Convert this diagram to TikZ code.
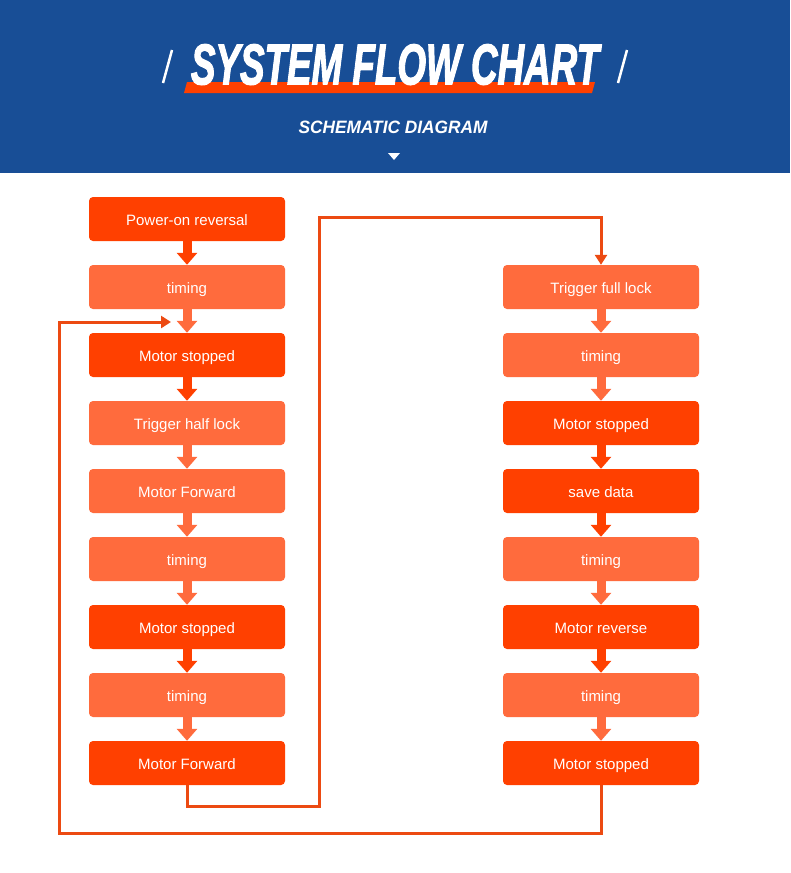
\documentclass[tikz,border=0pt]{standalone}
\usepackage{fontspec}
\usepackage{graphicx}
\setmainfont{Liberation Sans}
\newfontfamily\heavyfont[FakeBold=2.5]{Liberation Sans}
\usetikzlibrary{arrows.meta}
\definecolor{hdr}{RGB}{24,78,150}
\definecolor{dk}{RGB}{255,64,0}
\definecolor{lt}{RGB}{255,107,61}
\definecolor{cn}{RGB}{236,74,18}
\tikzset{
  box/.style={minimum width=196pt, minimum height=44pt, rounded corners=4pt, inner sep=0pt, text=white, text height=13pt, text depth=1pt, font=\fontsize{15}{17}\selectfont},
  flowarr/.style={line width=9pt, -{Triangle[width=20pt,length=12pt]}, shorten <=-0.5pt},
  conn/.style={draw=cn, line width=3pt, line join=miter},
  connarr/.style={conn, -{Triangle[width=12pt,length=10pt]}}
}
\begin{document}
\begin{tikzpicture}[x=1pt,y=-1pt]
\useasboundingbox (0,0) rectangle (790,873);
\fill[white] (0,0) rectangle (790,873);
% header
\fill[hdr] (0,0) rectangle (790,173);
\fill[dk] (187,82) -- (595,82) -- (592,93) -- (184,93) -- cycle;
\node[text=white, inner sep=0pt, anchor=south] (title) at (395,85) {\resizebox{408pt}{40pt}{\heavyfont\bfseries\itshape SYSTEM FLOW CHART}};
\draw[white, line width=2.5pt] (163,83) -- (172,50);
\draw[white, line width=2.5pt] (618,83) -- (627,50);
\node[text=white, inner sep=0pt, anchor=south] (sub) at (393,134) {\resizebox{189pt}{12.5pt}{\bfseries\itshape SCHEMATIC DIAGRAM}};
\fill[white] (388,153) -- (400,153) -- (394,160) -- cycle;
% left column
\node[box, fill=dk] (L1) at (187,219) {Power-on reversal};
\node[box, fill=lt] (L2) at (187,287) {timing};
\node[box, fill=dk] (L3) at (187,355) {Motor stopped};
\node[box, fill=lt] (L4) at (187,423) {Trigger half lock};
\node[box, fill=lt] (L5) at (187,491) {Motor Forward};
\node[box, fill=lt] (L6) at (187,559) {timing};
\node[box, fill=dk] (L7) at (187,627) {Motor stopped};
\node[box, fill=lt] (L8) at (187,695) {timing};
\node[box, fill=dk] (L9) at (187,763) {Motor Forward};
% right column
\node[box, fill=lt] (R1) at (601,287) {Trigger full lock};
\node[box, fill=lt] (R2) at (601,355) {timing};
\node[box, fill=dk] (R3) at (601,423) {Motor stopped};
\node[box, fill=dk] (R4) at (601,491) {save data};
\node[box, fill=lt] (R5) at (601,559) {timing};
\node[box, fill=dk] (R6) at (601,627) {Motor reverse};
\node[box, fill=lt] (R7) at (601,695) {timing};
\node[box, fill=dk] (R8) at (601,763) {Motor stopped};
% flow arrows (colour of source box)
\draw[flowarr, dk] (L1.south) -- (L2.north);
\draw[flowarr, lt] (L2.south) -- (L3.north);
\draw[flowarr, dk] (L3.south) -- (L4.north);
\draw[flowarr, lt] (L4.south) -- (L5.north);
\draw[flowarr, lt] (L5.south) -- (L6.north);
\draw[flowarr, lt] (L6.south) -- (L7.north);
\draw[flowarr, dk] (L7.south) -- (L8.north);
\draw[flowarr, lt] (L8.south) -- (L9.north);
\draw[flowarr, lt] (R1.south) -- (R2.north);
\draw[flowarr, lt] (R2.south) -- (R3.north);
\draw[flowarr, dk] (R3.south) -- (R4.north);
\draw[flowarr, dk] (R4.south) -- (R5.north);
\draw[flowarr, lt] (R5.south) -- (R6.north);
\draw[flowarr, dk] (R6.south) -- (R7.north);
\draw[flowarr, lt] (R7.south) -- (R8.north);
% connectors
\coordinate (c1) at (319,806);
\coordinate (c2) at (601,217);
\coordinate (c3) at (59,833);
\coordinate (c4) at (171,322);
\draw[connarr] (L9.south) |- (c1) |- (c2) -- (R1.north);
\draw[connarr] (R8.south) |- (c3) |- (c4);
\end{tikzpicture}
\end{document}
